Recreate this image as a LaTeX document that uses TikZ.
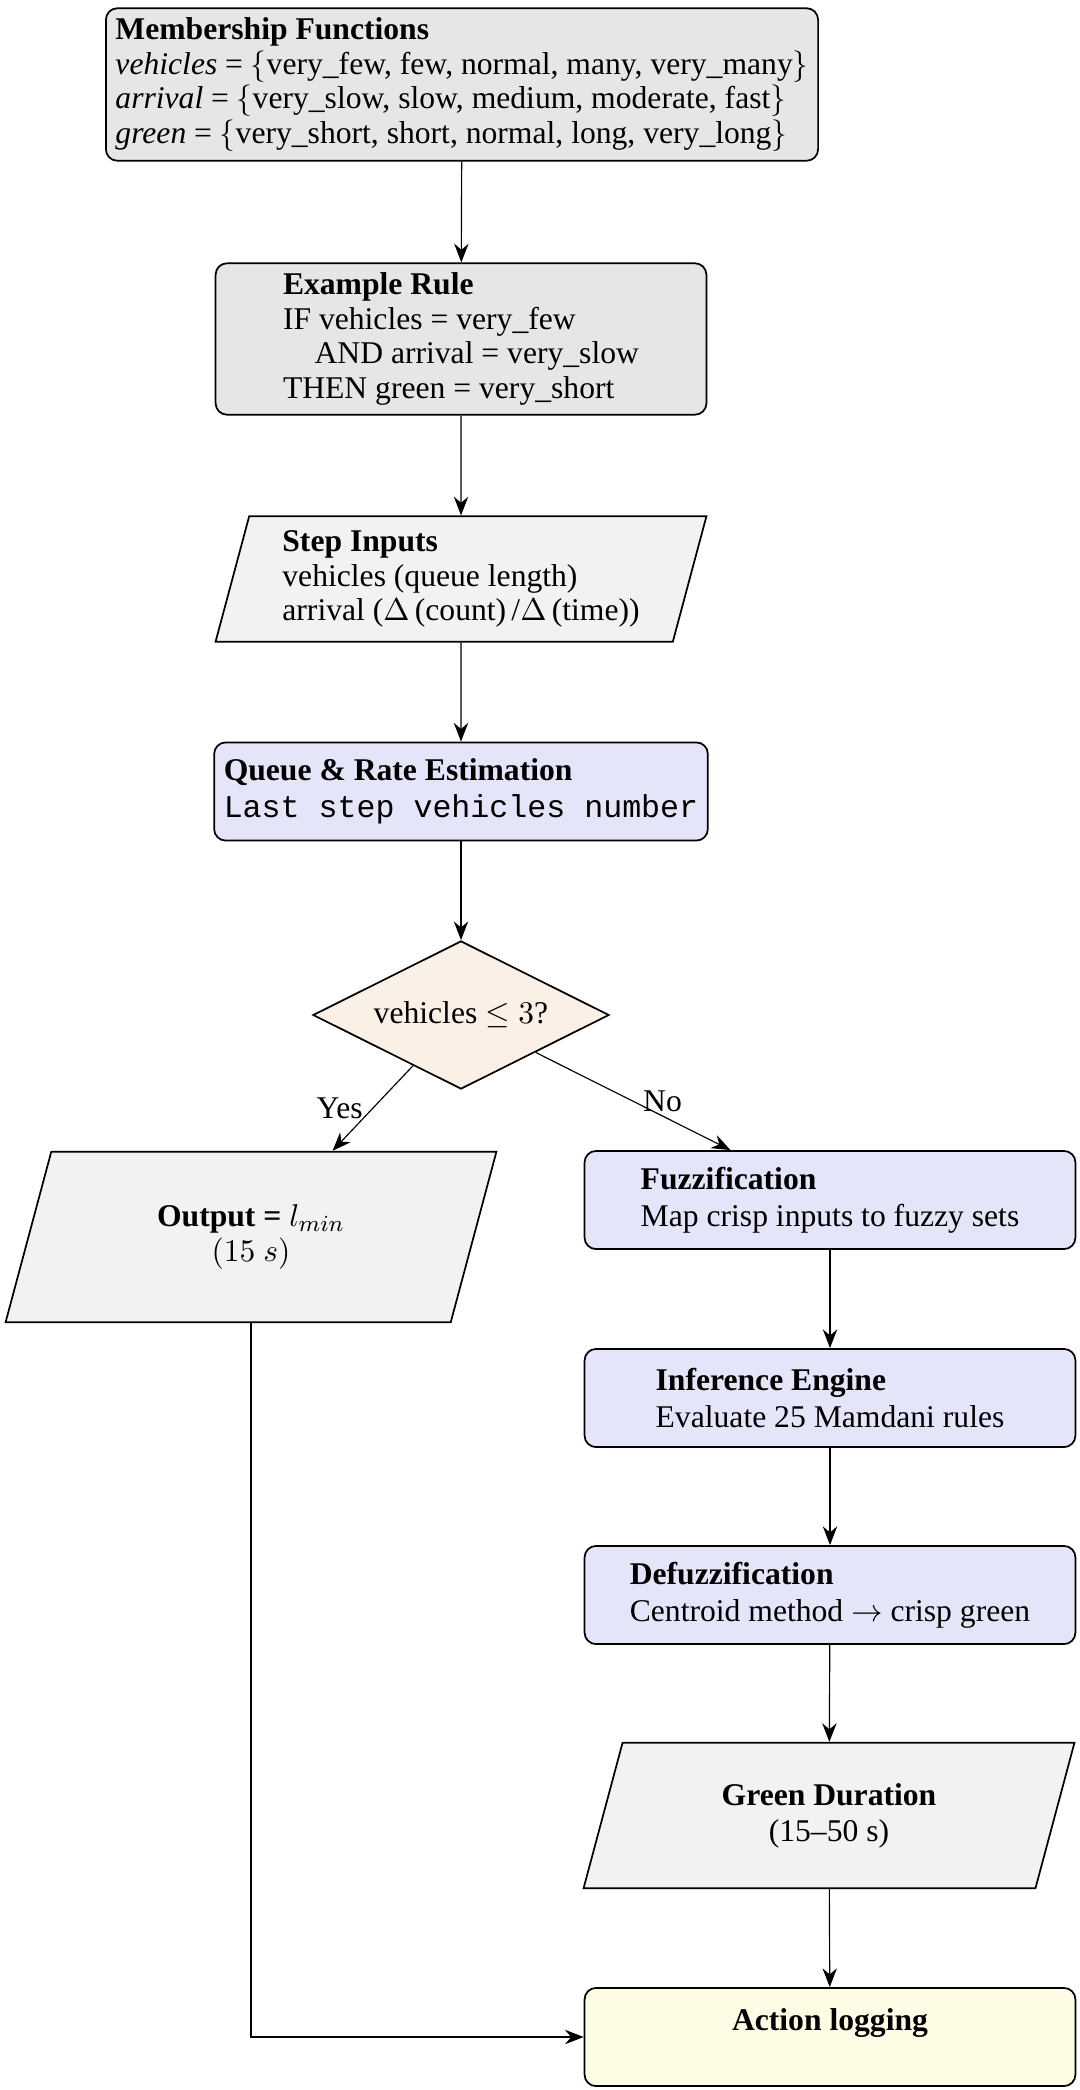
\documentclass[tikz,border=0pt]{standalone}
\usepackage{amsmath}
\usepackage{fontspec}
\setmainfont{Liberation Serif}
\setmonofont{Liberation Mono}
\usetikzlibrary{shapes.geometric,arrows.meta}
\definecolor{boxgray}{RGB}{230,230,230}
\definecolor{iogray}{RGB}{242,242,242}
\definecolor{procblue}{RGB}{229,229,250}
\definecolor{decfill}{RGB}{251,240,230}
\definecolor{logfill}{RGB}{255,252,230}
\tikzset{
  base/.style={draw=black, line width=0.6pt, font=\fontsize{11}{12}\selectfont},
  infobox/.style={base, rectangle, rounded corners=4pt, fill=boxgray, align=left},
  iobox/.style={base, trapezium, trapezium left angle=75, trapezium right angle=105,
    trapezium stretches body, fill=iogray, minimum width=6cm},
  procbox/.style={base, rectangle, rounded corners=4pt, fill=procblue, align=left,
    minimum width=6cm, minimum height=1.2cm, font=\fontsize{11}{13}\selectfont},
  decbox/.style={base, diamond, aspect=2, fill=decfill, inner sep=0pt,
    minimum width=103pt, minimum height=51.5pt},
  logbox/.style={base, rectangle, rounded corners=4pt, fill=logfill, align=center,
    minimum width=6cm, minimum height=1.2cm},
  flow/.style={-{Stealth[length=6.5pt,width=5pt]}, line width=0.4pt},
  lbl/.style={font=\fontsize{11}{13}\selectfont},
}
\begin{document}
\begin{tikzpicture}[x=0.3478pt,y=-0.3478pt]
\useasboundingbox (0,0) rectangle (1080,2090);

\node[infobox] (mem) at (462,84.5) {\textbf{Membership Functions}\\
  \textit{vehicles} = $\{$very\_few, few, normal, many, very\_many$\}$\\
  \textit{arrival} = $\{$very\_slow, slow, medium, moderate, fast$\}$\\
  \textit{green} = $\{$very\_short, short, normal, long, very\_long$\}$};

\node[infobox, minimum width=6cm] (rule) at (461,339) {\textbf{Example Rule}\\
  IF vehicles = very\_few\\
  \quad AND arrival = very\_slow\\
  THEN green = very\_short};

\node[iobox, align=left, inner ysep=5pt] (step) at (461,579) {\textbf{Step Inputs}\\
  vehicles (queue length)\\
  arrival ($\Delta$\,(count)\,/$\Delta$\,(time))};

\node[procbox] (queue) at (461,791.5) {\textbf{Queue \& Rate Estimation}\\
  \texttt{Last step vehicles number}};

\node[decbox] (dec) at (461,1015) {vehicles $\leq 3$?};

\node[iobox, align=center, inner ysep=18.5pt] (out) at (251,1237) {\textbf{Output =} $l_{min}$\\$(15~s)$};

\node[procbox] (fuzz) at (830,1200) {\textbf{Fuzzification}\\Map crisp inputs to fuzzy sets};
\node[procbox] (inf) at (830,1398) {\textbf{Inference Engine}\\Evaluate 25 Mamdani rules};
\node[procbox] (defuzz) at (830,1595) {\textbf{Defuzzification}\\Centroid method $\rightarrow$ crisp green};

\node[iobox, align=center, inner ysep=14pt, font=\fontsize{11}{12.6}\selectfont] (green) at (829,1815.5) {\textbf{Green Duration}\\(15--50 s)};

\node[logbox] (act) at (830,2037) {\textbf{Action logging}\\\mbox{}};

\draw[flow] (mem) -- (rule);
\draw[flow] (rule) -- (step);
\draw[flow] (step) -- (queue);
\draw[flow] (queue) -- (dec);
\draw[flow] (dec) -- node[lbl, left] {Yes} (out);
\draw[flow] (dec) -- node[lbl, right] {No} (fuzz);
\draw[flow] (fuzz) -- (inf);
\draw[flow] (inf) -- (defuzz);
\draw[flow] (defuzz) -- (green);
\draw[flow] (green) -- (act);
\draw[flow] (out.south) |- (act.west);
\end{tikzpicture}
\end{document}
